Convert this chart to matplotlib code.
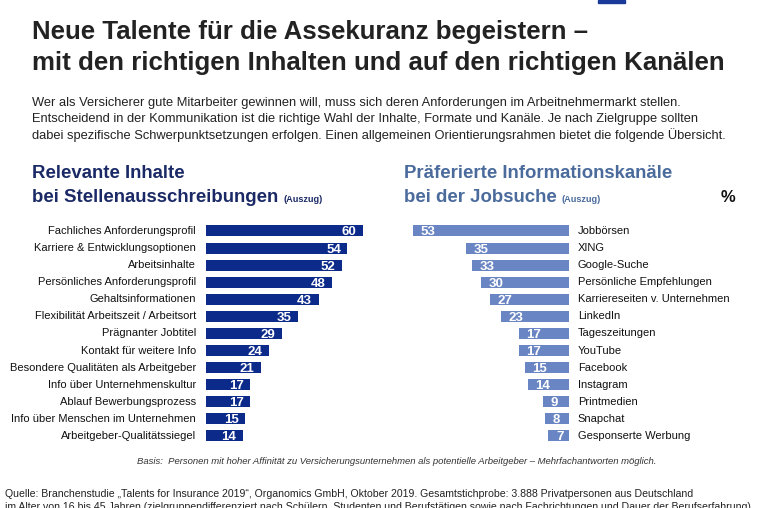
import matplotlib
matplotlib.use("Agg")
import matplotlib.pyplot as plt

plt.rcParams['font.family'] = ['Liberation Sans', 'DejaVu Sans']

W, H = 762, 508

left_cats = ["Fachliches Anforderungsprofil", "Karriere & Entwicklungsoptionen", "Arbeitsinhalte",
             "Persönliches Anforderungsprofil", "Gehaltsinformationen",
             "Flexibilität Arbeitszeit / Arbeitsort", "Prägnanter Jobtitel",
             "Kontakt für weitere Info", "Besondere Qualitäten als Arbeitgeber",
             "Info über Unternehmenskultur", "Ablauf Bewerbungsprozess",
             "Info über Menschen im Unternehmen", "Arbeitgeber-Qualitätssiegel"]
left_vals = [60, 54, 52, 48, 43, 35, 29, 24, 21, 17, 17, 15, 14]

right_cats = ["Jobbörsen", "XING", "Google-Suche", "Persönliche Empfehlungen",
              "Karriereseiten v. Unternehmen", "LinkedIn", "Tageszeitungen", "YouTube",
              "Facebook", "Instagram", "Printmedien", "Snapchat", "Gesponserte Werbung"]
right_vals = [53, 35, 33, 30, 27, 23, 17, 17, 15, 14, 9, 8, 7]

DARK = "#0c2a8a"
LIGHT = "#6a85c3"
NAVY = "#1b2a66"
STEEL = "#4a6b9c"

fig = plt.figure(figsize=(W / 100, H / 100), dpi=100)
fig.patch.set_facecolor("white")

def fx(x):
    return x / W

def fy(y):
    return 1 - y / H

# row geometry
top_c, bot_c = 231, 436
n = len(left_vals)
step = (bot_c - top_c) / (n - 1)
ax_top = top_c - step / 2
ax_h = n * step
bh = 11 / step

# left axes
lx0, lw = 206, 157
axL = fig.add_axes([fx(lx0), fy(ax_top + ax_h), lw / W, ax_h / H])
ys = list(range(n))
axL.barh(ys, left_vals, height=bh, color=DARK)
axL.set_xlim(0, max(left_vals))
axL.set_ylim(n - 0.5, -0.5)
axL.axis("off")
for i, (v, c) in enumerate(zip(left_vals, left_cats)):
    axL.text(v - 2.4, i, str(v), ha="right", va="center_baseline", color="white",
             fontsize=9.5, fontweight="bold")
    axL.text(-3.8, i, c, ha="right", va="center", color="#111111", fontsize=8)

# right axes
rx1, rw = 569, 156
axR = fig.add_axes([fx(rx1 - rw), fy(ax_top + ax_h), rw / W, ax_h / H])
axR.barh(ys, right_vals, height=bh, color=LIGHT)
axR.set_xlim(max(right_vals), 0)
axR.set_ylim(n - 0.5, -0.5)
axR.axis("off")
for i, (v, c) in enumerate(zip(right_vals, right_cats)):
    axR.text(v - 2.6, i, str(v), ha="left", va="center_baseline", color="white",
             fontsize=9.5, fontweight="bold")
    axR.text(-3.0, i, c, ha="left", va="center", color="#111111", fontsize=8)

# logo hint
fig.patches.append(plt.Rectangle((fx(598), fy(3)), 27 / W, 3 / H, transform=fig.transFigure,
                                 color="#1a3a9a"))

# titles
fig.text(fx(32), fy(32), "Neue Talente für die Assekuranz begeistern –", fontsize=18.6,
         fontweight="bold", color="#222222", va="center", ha="left")
fig.text(fx(32), fy(63), "mit den richtigen Inhalten und auf den richtigen Kanälen", fontsize=18.6,
         fontweight="bold", color="#222222", va="center", ha="left")

para = ["Wer als Versicherer gute Mitarbeiter gewinnen will, muss sich deren Anforderungen im Arbeitnehmermarkt stellen.",
        "Entscheidend in der Kommunikation ist die richtige Wahl der Inhalte, Formate und Kanäle. Je nach Zielgruppe sollten",
        "dabei spezifische Schwerpunktsetzungen erfolgen. Einen allgemeinen Orientierungsrahmen bietet die folgende Übersicht."]
for k, line in enumerate(para):
    fig.text(fx(32), fy(103 + 16 * k), line, fontsize=9.25, color="#222222", va="center", ha="left")

# section titles
fig.text(fx(32), fy(173), "Relevante Inhalte", fontsize=13.4, fontweight="bold", color=NAVY,
         va="center", ha="left")
tl = fig.text(fx(32), fy(197), "bei Stellenausschreibungen", fontsize=13.4, fontweight="bold",
              color=NAVY, va="center", ha="left")
fig.text(fx(404), fy(173), "Präferierte Informationskanäle", fontsize=13.4, fontweight="bold",
         color=STEEL, va="center", ha="left")
tr = fig.text(fx(404), fy(197), "bei der Jobsuche", fontsize=13.4, fontweight="bold",
              color=STEEL, va="center", ha="left")

fig.text(fx(728), fy(197), "%", fontsize=12, fontweight="bold", color="#111111",
         va="center", ha="center")

fig.text(fx(397), fy(461),
         "Basis:  Personen mit hoher Affinität zu Versicherungsunternehmen als potentielle Arbeitgeber – Mehrfachantworten möglich.",
         fontsize=6.8, style="italic", color="#333333", va="center", ha="center")

fig.text(fx(5), fy(494),
         "Quelle: Branchenstudie „Talents for Insurance 2019“, Organomics GmbH, Oktober 2019. Gesamtstichprobe: 3.888 Privatpersonen aus Deutschland",
         fontsize=7.52, color="#222222", va="center", ha="left")
fig.text(fx(5), fy(507),
         "im Alter von 16 bis 45 Jahren (zielgruppendifferenziert nach Schülern, Studenten und Berufstätigen sowie nach Fachrichtungen und Dauer der Berufserfahrung).",
         fontsize=7.52, color="#222222", va="center", ha="left")

fig.canvas.draw()
r = fig.canvas.get_renderer()
for t, col in ((tl, NAVY), (tr, STEEL)):
    bb = t.get_window_extent(renderer=r)
    fig.text((bb.x1 + 5) / W, fy(199.5), "(Auszug)", fontsize=6.6, fontweight="bold", color=col,
             va="center", ha="left")

fig.savefig("out.png", dpi=100, facecolor="white")
